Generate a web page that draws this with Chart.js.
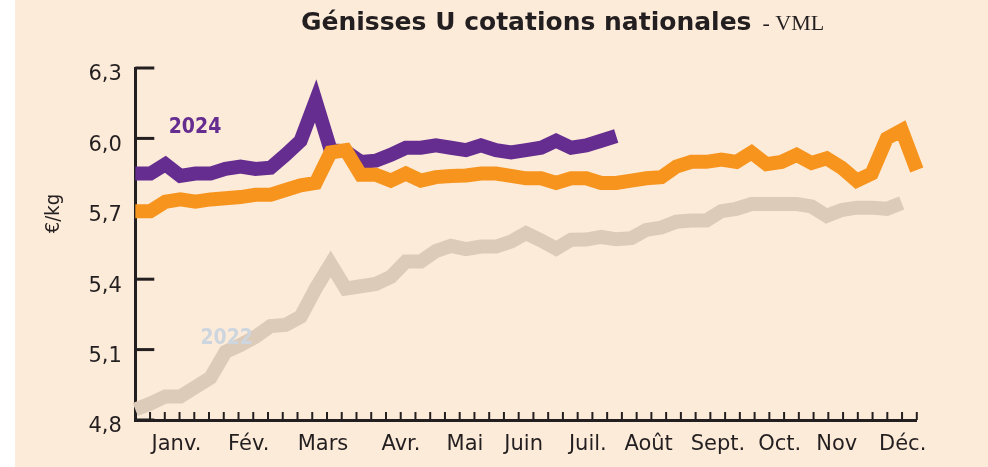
<!DOCTYPE html>
<html>
<head>
<meta charset="utf-8">
<script src="https://cdn.jsdelivr.net/npm/chart.js@4.4.1/dist/chart.umd.min.js"></script>
<style>
    html, body { margin: 0; padding: 0; background: #fff; }
    #wrap { width: 988px; height: 467px; }
</style>
</head>
<body>
<div id="wrap"><canvas id="chart" width="988" height="467"></canvas></div>
<script>
// semaines (une valeur par semaine)
const weeks = [
    'S1', 'S2', 'S3', 'S4', 'S5', 'S6', 'S7', 'S8', 'S9', 'S10',
    'S11', 'S12', 'S13', 'S14', 'S15', 'S16', 'S17', 'S18', 'S19', 'S20',
    'S21', 'S22', 'S23', 'S24', 'S25', 'S26', 'S27', 'S28', 'S29', 'S30',
    'S31', 'S32', 'S33', 'S34', 'S35', 'S36', 'S37', 'S38', 'S39', 'S40',
    'S41', 'S42', 'S43', 'S44', 'S45', 'S46', 'S47', 'S48', 'S49', 'S50',
    'S51', 'S52', 'S53'
];

const prices2022 = [
    4.845, 4.87, 4.90, 4.90, 4.94, 4.98, 5.09, 5.12, 5.155, 5.20,
    5.205, 5.24, 5.36, 5.465, 5.36, 5.37, 5.38, 5.41, 5.475, 5.475,
    5.52, 5.542, 5.528, 5.539, 5.539, 5.56, 5.596, 5.565, 5.53, 5.568,
    5.569, 5.58, 5.57, 5.575, 5.61, 5.62, 5.645, 5.65, 5.65, 5.69,
    5.70, 5.72, 5.72, 5.72, 5.72, 5.71, 5.67, 5.695, 5.705, 5.705,
    5.70, 5.725
];

const prices2023 = [
    5.69, 5.69, 5.73, 5.74, 5.73, 5.74, 5.745, 5.75, 5.76, 5.76,
    5.78, 5.80, 5.81, 5.94, 5.95, 5.845, 5.845, 5.82, 5.85, 5.82,
    5.835, 5.84, 5.842, 5.85, 5.85, 5.84, 5.83, 5.83, 5.81, 5.83,
    5.83, 5.81, 5.81, 5.82, 5.83, 5.835, 5.88, 5.90, 5.90, 5.91,
    5.90, 5.94, 5.89, 5.90, 5.93, 5.895, 5.915, 5.875, 5.82, 5.85,
    6.00, 6.035, 5.865
];

const prices2024 = [
    5.85, 5.85, 5.89, 5.84, 5.85, 5.85, 5.87, 5.88, 5.87, 5.875,
    5.93, 5.99, 6.16, 5.95, 5.945, 5.90, 5.905, 5.93, 5.96, 5.96,
    5.97, 5.96, 5.95, 5.97, 5.95, 5.94, 5.95, 5.96, 5.99, 5.96,
    5.97, 5.99, 6.01
];

const yTicks = [4.8, 5.1, 5.4, 5.7, 6.0, 6.3];
const months = ['Janv.', 'Fév.', 'Mars', 'Avr.', 'Mai', 'Juin', 'Juil.', 'Août', 'Sept.', 'Oct.', 'Nov', 'Déc.'];
// position des libellés de mois, en semaines
const monthWeeks = [2.79, 7.69, 12.73, 18.02, 22.36, 26.34, 30.69, 34.81, 39.52, 43.70, 47.57, 52.04];

const titleMain = 'Génisses U cotations nationales';
const titleSource = '- VML';
const unitLabel = '€/kg';

const ink = '#231f20';
const peach = '#fdebd9';
const purple = '#652d90';
const orange = '#f7941d';
const beige = '#dccbb9';
const sans = '"DejaVu Sans", sans-serif';
const condensed = '"DejaVu Sans Condensed", "DejaVu Sans", sans-serif';

const decor = {
    id: 'decor',
    beforeDraw(chart) {
        const { ctx, width, height } = chart;
        ctx.save();
        ctx.fillStyle = '#ffffff';
        ctx.fillRect(0, 0, width, height);
        ctx.fillStyle = peach;
        ctx.fillRect(15, 0, width - 15, height);
        ctx.restore();
    },
    beforeDatasetsDraw(chart) {
        const { ctx, chartArea } = chart;
        const m = chart.scales.m;
        const y = chart.scales.y;
        ctx.save();
        ctx.strokeStyle = ink;
        ctx.lineWidth = 3;
        yTicks.forEach(v => {
            const py = y.getPixelForValue(v);
            ctx.beginPath();
            ctx.moveTo(chartArea.left, py);
            ctx.lineTo(chartArea.left + 19, py);
            ctx.stroke();
        });
        ctx.lineWidth = 2;
        for (let k = 1; k <= 53; k++) {
            const px = m.getPixelForValue(k);
            ctx.beginPath();
            ctx.moveTo(px, chartArea.bottom);
            ctx.lineTo(px, chartArea.bottom - 8);
            ctx.stroke();
        }
        ctx.restore();
    },
    afterDatasetsDraw(chart) {
        const { ctx } = chart;
        const m = chart.scales.m;
        const y = chart.scales.y;
        ctx.save();
        ctx.font = 'bold 21px ' + condensed;
        ctx.textAlign = 'center';
        ctx.textBaseline = 'middle';
        ctx.fillStyle = purple;
        ctx.fillText('2024', m.getPixelForValue(4.05), y.getPixelForValue(6.045));
        ctx.fillStyle = '#cdd6df';
        ctx.fillText('2022', m.getPixelForValue(6.2), y.getPixelForValue(5.145));
        ctx.restore();
    },
    afterDraw(chart) {
        const { ctx, chartArea } = chart;
        const y = chart.scales.y;
        ctx.save();
        ctx.fillStyle = ink;
        ctx.textAlign = 'left';
        ctx.textBaseline = 'alphabetic';
        ctx.font = 'bold 25px "DejaVu Sans"';
        ctx.fillText(titleMain, 301, 30);
        const w = ctx.measureText(titleMain).width;
        ctx.font = '22px "Liberation Serif"';
        ctx.fillText(titleSource, 301 + w + 11, 30);

        // titre de l'axe vertical
        ctx.translate(chartArea.left - 82, y.getPixelForValue(5.68));
        ctx.rotate(-Math.PI / 2);
        ctx.textAlign = 'center';
        ctx.textBaseline = 'middle';
        ctx.font = '20px ' + condensed;
        ctx.fillText(unitLabel, 0, 0);
        ctx.restore();
    }
};

const lineStyle = {
    borderWidth: 14,
    pointRadius: 0,
    tension: 0,
    borderJoinStyle: 'miter',
    borderCapStyle: 'butt',
    fill: false
};

new Chart(document.getElementById('chart'), {
    type: 'line',
    data: {
        labels: weeks,
        datasets: [
            { label: '2023', data: prices2023, borderColor: orange, ...lineStyle },
            { label: '2024', data: prices2024, borderColor: purple, ...lineStyle },
            { label: '2022', data: prices2022, borderColor: beige, ...lineStyle }
        ]
    },
    options: {
        responsive: false,
        animation: false,
        layout: { padding: { left: 15, right: 71.2, top: 68, bottom: 0 } },
        plugins: {
            legend: { display: false },
            tooltip: { enabled: false }
        },
        scales: {
            x: { type: 'category', display: false },
            m: {
                type: 'linear',
                position: 'bottom',
                min: 0,
                max: 53,
                afterBuildTicks: s => { s.ticks = monthWeeks.map(v => ({ value: v })); },
                afterFit: s => { s.height = 47; },
                grid: { display: false, drawTicks: false },
                border: { display: true, color: ink, width: 3 },
                ticks: {
                    autoSkip: false,
                    maxRotation: 0,
                    color: ink,
                    padding: 12,
                    font: { family: sans, size: 21 },
                    callback: (v, i) => months[i]
                }
            },
            y: {
                min: 4.8,
                max: 6.3,
                afterBuildTicks: s => { s.ticks = yTicks.map(v => ({ value: v })); },
                afterFit: s => { s.width = 120.3; },
                grid: { display: false, drawTicks: false },
                border: { display: true, color: ink, width: 3 },
                ticks: {
                    color: ink,
                    padding: 13.5,
                    labelOffset: 7,
                    font: { family: sans, size: 21 },
                    callback: v => v.toFixed(1).replace('.', ',')
                }
            }
        }
    },
    plugins: [decor]
});
</script>
</body>
</html>
